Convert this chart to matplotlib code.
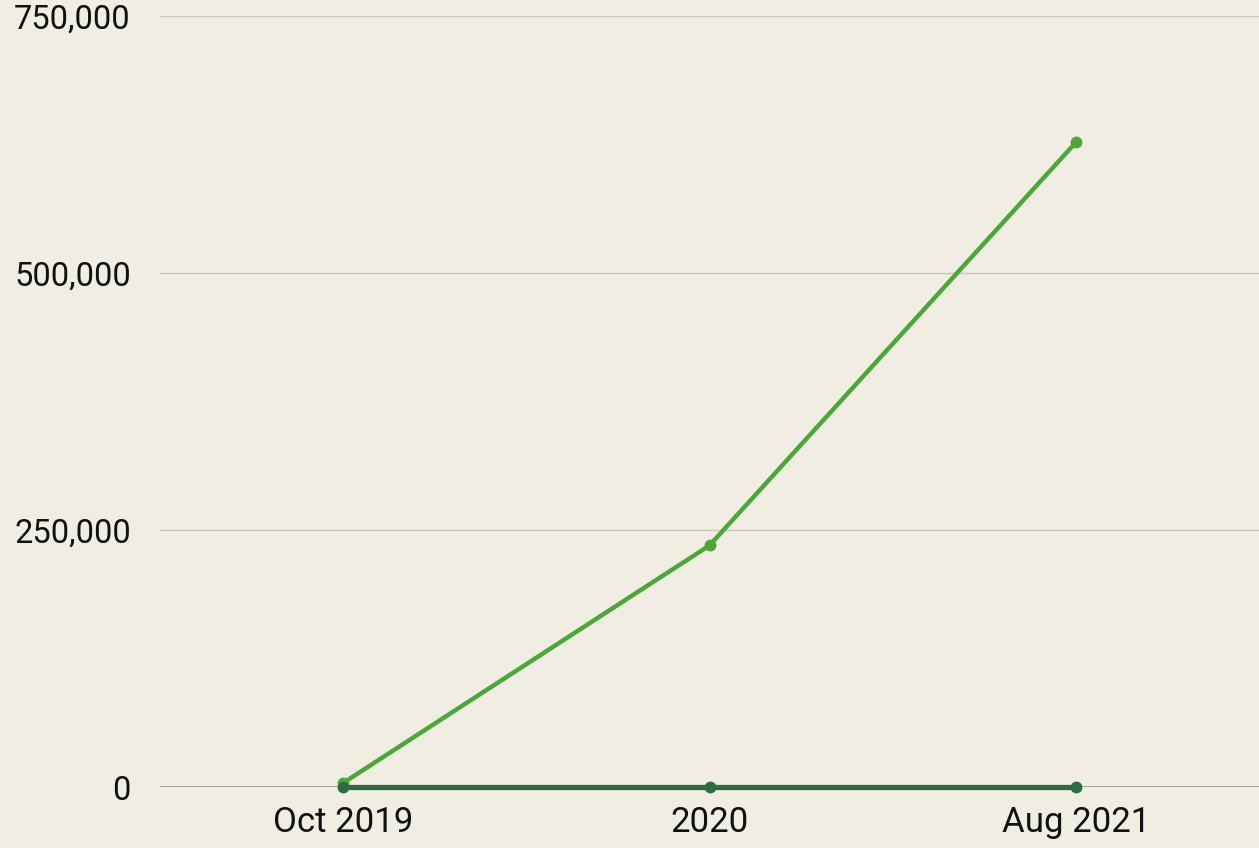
import matplotlib.pyplot as plt
from matplotlib.ticker import FuncFormatter

plt.rcParams['font.family'] = ['Roboto', 'DejaVu Sans']

periods = ['Oct 2019', '2020', 'Aug 2021']
series_light = [3900, 235000, 627000]
series_dark = [0, 0, 0]
yticks = [0, 250000, 500000, 750000]

bg = '#f0eee2'
fig = plt.figure(figsize=(12.59, 8.48), dpi=100, facecolor=bg)
ax = fig.add_axes([160/1259, 61/848, 1 - 160/1259, 771/848])
ax.set_facecolor(bg)

x = range(len(periods))
ax.plot(x, series_light, color='#4ea63b', lw=3.2, marker='o', ms=7.5, zorder=3,
        solid_capstyle='round', clip_on=False)
ax.plot(x, series_dark, color='#2f6b40', lw=3.8, marker='o', ms=7.5, zorder=4,
        solid_capstyle='round', clip_on=False)

ax.set_xlim(-0.5, 2.5)
ax.set_ylim(0, 750000)
ax.set_xticks(list(x))
ax.set_xticklabels(periods)
ax.set_yticks(yticks)
ax.yaxis.set_major_formatter(FuncFormatter(lambda v, p: f'{int(v):,}'))
ax.grid(axis='y', color='#c9c7bd', lw=1)
ax.set_axisbelow(True)
for s in ax.spines.values():
    s.set_visible(False)
ax.axhline(0, color='#9a988e', lw=1.2, zorder=2)
ax.tick_params(length=0, labelsize=25, colors='#111111')
ax.tick_params(axis='y', pad=21, labelsize=23.5)
ax.tick_params(axis='x', pad=14)

fig.savefig('out.png', dpi=100, facecolor=bg)
